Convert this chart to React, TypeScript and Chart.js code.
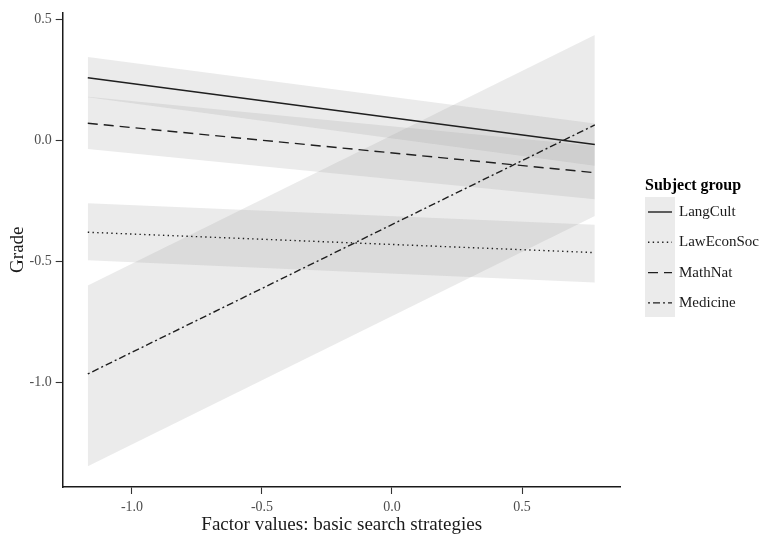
import React, { useEffect, useRef } from "react";
import { Chart, registerables } from "chart.js";

Chart.register(...registerables);

// ---- data ----
const groups = ["LangCult", "LawEconSoc", "MathNat", "Medicine"];
const xEnds = [-1.17, 0.78];

const langCultFit = [0.259, -0.017];
const langCultLower = [0.178, -0.104];
const langCultUpper = [0.345, 0.07];

const lawEconSocFit = [-0.379, -0.463];
const lawEconSocLower = [-0.495, -0.586];
const lawEconSocUpper = [-0.259, -0.348];

const mathNatFit = [0.071, -0.133];
const mathNatLower = [-0.035, -0.243];
const mathNatUpper = [0.18, -0.023];

const medicineFit = [-0.964, 0.064];
const medicineLower = [-1.345, -0.312];
const medicineUpper = [-0.599, 0.435];

const xTicks = [-1.0, -0.5, 0.0, 0.5];
const yTicks = [-1.0, -0.5, 0.0, 0.5];

const fits = [langCultFit, lawEconSocFit, mathNatFit, medicineFit];
const lowers = [langCultLower, lawEconSocLower, mathNatLower, medicineLower];
const uppers = [langCultUpper, lawEconSocUpper, mathNatUpper, medicineUpper];

// ---- styles ----
const dashes: number[][] = [[], [1.4, 3.3], [10, 6], [2, 3, 7, 3]];
const lineColor = "#1f1f1f";
const bandColor = "rgba(153,153,153,0.2)";
const FONT = "'Liberation Serif', 'Times New Roman', serif";

const pts = (ys: number[]) => ys.map((y, i) => ({ x: xEnds[i], y }));

const legendPlugin = {
  id: "ggLegend",
  afterDraw(chart: any) {
    const ctx = chart.ctx as CanvasRenderingContext2D;
    ctx.save();
    ctx.textBaseline = "middle";
    ctx.textAlign = "left";
    ctx.fillStyle = "#000";
    ctx.font = `bold 16px ${FONT}`;
    ctx.fillText("Subject group", 645, 186);
    ctx.fillStyle = "#ebebeb";
    ctx.fillRect(645, 197, 30, 120);
    groups.forEach((g, i) => {
      const y = 212 + i * 30.3;
      ctx.strokeStyle = lineColor;
      ctx.lineWidth = 1.4;
      ctx.lineCap = "butt";
      ctx.setLineDash(dashes[i]);
      ctx.beginPath();
      ctx.moveTo(648, y);
      ctx.lineTo(672, y);
      ctx.stroke();
      ctx.setLineDash([]);
      ctx.fillStyle = "#1a1a1a";
      ctx.font = `15px ${FONT}`;
      ctx.fillText(g, 679, y);
    });
    ctx.restore();
  },
};

export default function App() {
  const ref = useRef<HTMLCanvasElement | null>(null);

  useEffect(() => {
    document.body.style.margin = "0";
    const canvas = ref.current;
    if (!canvas) return;

    const datasets: any[] = [];
    groups.forEach((g, i) => {
      datasets.push({
        label: g + " lower",
        data: pts(lowers[i]),
        borderWidth: 0,
        borderColor: "rgba(0,0,0,0)",
        pointRadius: 0,
        fill: false,
        order: 3,
      });
      datasets.push({
        label: g + " upper",
        data: pts(uppers[i]),
        borderWidth: 0,
        borderColor: "rgba(0,0,0,0)",
        backgroundColor: bandColor,
        pointRadius: 0,
        fill: "-1",
        order: 2,
      });
    });
    groups.forEach((g, i) => {
      datasets.push({
        label: g,
        data: pts(fits[i]),
        borderColor: lineColor,
        borderWidth: 1.4,
        borderDash: dashes[i],
        borderCapStyle: "butt",
        pointRadius: 0,
        fill: false,
        order: 1,
      });
    });

    const chart = new Chart(canvas, {
      type: "line",
      data: { datasets },
      options: {
        animation: false,
        responsive: false,
        layout: { padding: { top: 7, right: 144.3, bottom: 0, left: 0 } },
        plugins: { legend: { display: false }, tooltip: { enabled: false } },
        scales: {
          x: {
            type: "linear",
            min: -1.2665,
            max: 0.8796,
            afterFit: (s: any) => {
              s.height = 49;
            },
            afterBuildTicks: (s: any) => {
              s.ticks = xTicks.map((v) => ({ value: v }));
            },
            ticks: {
              callback: (v: any) => Number(v).toFixed(1),
              color: "#4d4d4d",
              font: { family: FONT, size: 14 },
              padding: 5,
              maxRotation: 0,
            },
            grid: {
              drawOnChartArea: false,
              drawTicks: true,
              tickLength: 7,
              tickColor: "#333333",
              tickWidth: 1.1,
            },
            border: { display: true, color: "#1a1a1a", width: 1.5 },
            title: {
              display: true,
              text: "Factor values: basic search strategies",
              color: "#1a1a1a",
              font: { family: FONT, size: 19 },
              padding: { top: 0, bottom: 0 },
            },
          },
          y: {
            type: "linear",
            min: -1.4306,
            max: 0.5286,
            afterFit: (s: any) => {
              s.width = 62.7;
            },
            afterBuildTicks: (s: any) => {
              s.ticks = yTicks.map((v) => ({ value: v }));
            },
            ticks: {
              callback: (v: any) => Number(v).toFixed(1),
              color: "#4d4d4d",
              font: { family: FONT, size: 14 },
              padding: 4,
            },
            grid: {
              drawOnChartArea: false,
              drawTicks: true,
              tickLength: 7,
              tickColor: "#333333",
              tickWidth: 1.1,
            },
            border: { display: true, color: "#1a1a1a", width: 1.5 },
            title: {
              display: true,
              text: "Grade",
              color: "#1a1a1a",
              font: { family: FONT, size: 19 },
              padding: { top: 7, bottom: 0 },
            },
          },
        },
      },
      plugins: [legendPlugin],
    });

    return () => chart.destroy();
  }, []);

  return (
    <div style={{ width: 765, height: 536 }}>
      <canvas ref={ref} width={765} height={536} style={{ display: "block" }} />
    </div>
  );
}
